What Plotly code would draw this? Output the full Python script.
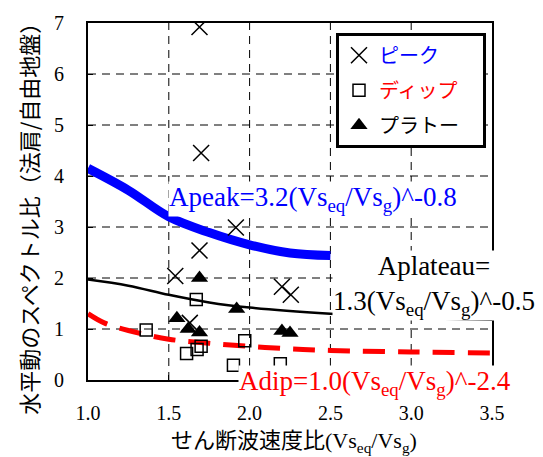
import plotly.graph_objects as go

# ---- data ----
peak_x = [1.69, 1.70, 1.915, 1.69, 1.54, 1.63, 2.20, 2.255]
peak_y = [6.92, 4.45, 2.99, 2.54, 2.04, 1.12, 1.83, 1.67]

dip_x = [1.67, 1.36, 1.61, 1.675, 1.70, 1.97, 1.90, 2.19]
dip_y = [1.58, 0.98, 0.52, 0.60, 0.66, 0.77, 0.29, 0.32]

plat_x = [1.69, 1.92, 1.55, 1.62, 1.69, 2.20, 2.25]
plat_y = [2.00, 1.39, 1.21, 1.00, 0.93, 0.96, 0.92]

peak_fit_x = [1.0, 1.25, 1.5, 1.75, 2.0, 2.25, 2.5]
peak_fit_y = [4.15, 3.72, 3.20, 2.89, 2.65, 2.49, 2.44]

plat_fit_x = [1.0, 1.25, 1.5, 1.75, 2.0, 2.5, 3.0, 3.5]
plat_fit_y = [1.97, 1.85, 1.67, 1.52, 1.42, 1.30, 1.22, 1.18]

dip_fit_x = [1.0, 1.1, 1.25, 1.5, 1.75, 2.0, 2.25, 2.5, 3.0, 3.5]
dip_fit_y = [1.30, 1.12, 0.97, 0.80, 0.72, 0.66, 0.61, 0.58, 0.55, 0.53]

x_ticks = [1.0, 1.5, 2.0, 2.5, 3.0, 3.5]
x_tick_text = ["1.0", "1.5", "2.0", "2.5", "3.0", "3.5"]
y_ticks = [0, 1, 2, 3, 4, 5, 6, 7]

names = ["ピーク", "ディップ\u3000", "プラトー"]
name_colors = ["#0000FF", "#FF0000", "#000000"]

SERIF = "Liberation Serif, Times New Roman, serif"
GOTHIC = "Noto Sans CJK JP, sans-serif"

X_RANGE = [x_ticks[0], x_ticks[-1]]
Y_RANGE = [y_ticks[0], y_ticks[-1]]

# plot area in pixels
L, R, T, B = 88, 492, 17, 380
W, H = 543, 457


def px(xp):
    return (xp - L) / (R - L)


def py(yp):
    return (B - yp) / (B - T)


fig = go.Figure()

# fitted curves
fig.add_trace(go.Scatter(x=peak_fit_x, y=peak_fit_y, mode="lines", line_shape="spline",
                         line=dict(color="#0000FF", width=9), showlegend=False, hoverinfo="skip"))
fig.add_trace(go.Scatter(x=plat_fit_x, y=plat_fit_y, mode="lines", line_shape="spline",
                         line=dict(color="#000000", width=2.5), showlegend=False, hoverinfo="skip"))
fig.add_trace(go.Scatter(x=dip_fit_x, y=dip_fit_y, mode="lines", line_shape="spline",
                         line=dict(color="#FF0000", width=5, dash="22px,13px"), showlegend=False,
                         hoverinfo="skip"))

# data points
fig.add_trace(go.Scatter(x=peak_x, y=peak_y, mode="markers",
                         name=f'<span style="color:{name_colors[0]}">{names[0]}</span>',
                         legendgroup="a",
                         marker=dict(symbol="x-thin-open", size=16, color="black",
                                     line=dict(color="black", width=1.5))))
fig.add_trace(go.Scatter(x=dip_x, y=dip_y, mode="markers",
                         name=f'<span style="color:{name_colors[1]}">{names[1]}</span>',
                         legendgroup="b",
                         marker=dict(symbol="square-open", size=12, color="black",
                                     line=dict(color="black", width=1.5))))
fig.add_trace(go.Scatter(x=plat_x, y=plat_y, mode="markers",
                         name=f'<span style="color:{name_colors[2]}">{names[2]}</span>',
                         legendgroup="c",
                         marker=dict(symbol="triangle-up", size=15, color="black")))

# dashed grid lines at the tick values
grid_shapes = []
for xv in x_ticks[1:-1]:
    grid_shapes.append(dict(type="line", xref="x", yref="y", x0=xv, x1=xv,
                            y0=Y_RANGE[0], y1=Y_RANGE[1], layer="below",
                            line=dict(color="black", width=1, dash="8px,6px")))
for yv in y_ticks[1:-1]:
    grid_shapes.append(dict(type="line", xref="x", yref="y", y0=yv, y1=yv,
                            x0=X_RANGE[0], x1=X_RANGE[1], layer="below",
                            line=dict(color="black", width=1, dash="8px,6px")))

axis_common = dict(showline=True, linecolor="black", linewidth=2, mirror=True,
                   ticks="inside", ticklen=5, tickcolor="black", showgrid=False,
                   zeroline=False, tickfont=dict(family=SERIF, size=20, color="black"))

fig.update_xaxes(range=X_RANGE, tickvals=x_ticks, ticktext=x_tick_text,
                 ticklabelstandoff=14, **axis_common)
fig.update_yaxes(range=Y_RANGE, tickvals=y_ticks, ticklabelstandoff=18, **axis_common)

annos = [
    dict(x=px(294), y=py(440), xanchor="center", yanchor="middle",
         text=f'<span style="font-family:{GOTHIC}">せん断波速度比</span>(Vs<sub>eq</sub>/Vs<sub>g</sub>)',
         font=dict(family=SERIF, size=22, color="black")),
    dict(x=px(28), y=py(211), xanchor="center", yanchor="middle", textangle=-90,
         text="水平動のスペクトル比（法肩/自由地盤）",
         font=dict(family=GOTHIC, size=22, color="black")),
    dict(x=px(168), y=py(196), xanchor="left", yanchor="middle",
         text="Apeak=3.2(Vs<sub>eq</sub>/Vs<sub>g</sub>)^-0.8", bgcolor="white",
         font=dict(family=SERIF, size=27, color="#0000FF"), borderpad=0),
    dict(x=px(434), y=py(284), xanchor="center", yanchor="middle",
         text="Aplateau=<br>1.3(Vs<sub>eq</sub>/Vs<sub>g</sub>)^-0.5", bgcolor="white",
         font=dict(family=SERIF, size=27, color="black"), borderpad=0),
    dict(x=px(375), y=py(383), xanchor="center", yanchor="middle",
         text="Adip=1.0(Vs<sub>eq</sub>/Vs<sub>g</sub>)^-2.4", bgcolor="white",
         font=dict(family=SERIF, size=27, color="#FF0000"), borderpad=0),
]
for a in annos:
    a.update(xref="paper", yref="paper", showarrow=False)

fig.update_layout(
    width=W, height=H,
    margin=dict(l=L, r=W - R, t=T, b=H - B),
    paper_bgcolor="white", plot_bgcolor="white",
    showlegend=True,
    legend=dict(x=px(336), y=py(27), xanchor="left", yanchor="top",
                bgcolor="white", bordercolor="black", borderwidth=3,
                font=dict(family=GOTHIC, size=20, color="black"),
                traceorder="grouped", tracegroupgap=6, itemwidth=30),
    annotations=annos,
    shapes=grid_shapes,
)

fig.write_html("out.html")
